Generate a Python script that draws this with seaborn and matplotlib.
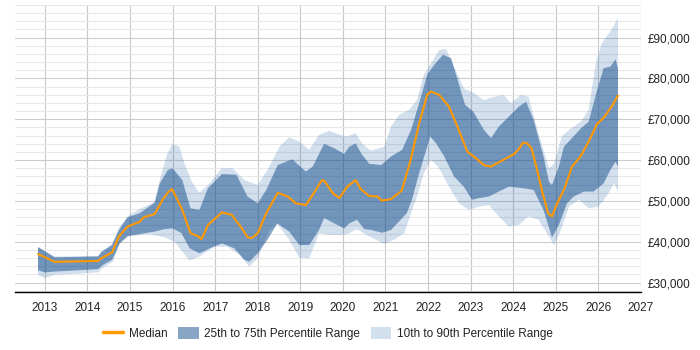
import numpy as np
import matplotlib
matplotlib.use("Agg")
import matplotlib.pyplot as plt
from matplotlib.lines import Line2D
from matplotlib.patches import Patch
from matplotlib.ticker import FuncFormatter, MultipleLocator
import seaborn as sns

# salary values in £ thousands
med_x = [2012.84, 2013.23, 2014.25, 2014.33, 2014.58, 2014.74, 2014.94, 2015.23, 2015.32, 2015.58,
         2015.75, 2015.89, 2015.99, 2016.23, 2016.42, 2016.61, 2016.67, 2016.73, 2016.83, 2017.16,
         2017.39, 2017.51, 2017.63, 2017.76, 2017.86, 2018.0, 2018.2, 2018.47, 2018.7, 2018.9,
         2019.13, 2019.29, 2019.5, 2019.56, 2019.76, 2019.92, 2020.1, 2020.3, 2020.42, 2020.62,
         2020.81, 2020.91, 2021.12, 2021.38, 2021.59, 2021.79, 2021.98, 2022.06, 2022.26, 2022.49,
         2022.69, 2022.92, 2023.12, 2023.31, 2023.47, 2023.74, 2024.02, 2024.13, 2024.23, 2024.33,
         2024.43, 2024.56, 2024.68, 2024.82, 2024.91, 2025.03, 2025.19, 2025.38, 2025.58, 2025.77,
         2025.97, 2026.12, 2026.32, 2026.46]
median = [37.0, 35.1, 35.3, 36.0, 37.4, 41.3, 43.7, 44.9, 46.0, 46.8,
          50.0, 52.1, 52.9, 47.8, 42.1, 41.3, 40.6, 41.7, 44.1, 47.2,
          46.6, 44.9, 43.3, 41.1, 40.9, 42.1, 47.0, 52.0, 51.1, 49.4,
          49.0, 51.5, 55.0, 55.0, 51.9, 50.7, 53.5, 55.1, 52.9, 51.2,
          51.1, 50.1, 50.4, 52.5, 60.0, 69.0, 76.0, 76.8, 76.0, 73.1,
          68.2, 62.1, 60.5, 58.8, 58.4, 59.9, 61.5, 62.7, 64.3, 64.1,
          62.9, 57.6, 52.3, 47.0, 46.2, 49.4, 52.7, 58.4, 60.9, 64.5,
          68.9, 70.3, 73.3, 75.8]

p75_x = [2012.84, 2013.23, 2014.25, 2014.33, 2014.58, 2014.74, 2014.94, 2015.23, 2015.58, 2015.7,
         2015.89, 2016.0, 2016.23, 2016.42, 2016.63, 2016.83, 2017.16, 2017.5, 2017.76, 2018.0,
         2018.2, 2018.47, 2018.81, 2019.13, 2019.29, 2019.56, 2019.8, 2020.03, 2020.15, 2020.3,
         2020.45, 2020.62, 2020.9, 2021.13, 2021.39, 2021.6, 2021.79, 2021.98, 2022.14, 2022.35,
         2022.54, 2022.68, 2022.87, 2023.06, 2023.31, 2023.48, 2023.66, 2023.9, 2024.13, 2024.3,
         2024.48, 2024.71, 2024.84, 2024.91, 2025.07, 2025.19, 2025.38, 2025.59, 2025.77, 2025.96,
         2026.12, 2026.28, 2026.4, 2026.46]
p75 = [38.7, 36.2, 36.4, 37.6, 39.2, 42.9, 46.0, 47.0, 49.6, 54.3,
       57.6, 58.0, 55.1, 48.2, 47.8, 53.1, 56.6, 56.4, 51.1, 49.4,
       52.7, 58.8, 60.2, 57.2, 58.4, 64.0, 62.9, 61.5, 63.3, 64.1,
       61.3, 59.1, 58.8, 60.9, 62.5, 67.4, 73.9, 80.9, 83.3, 85.8,
       85.0, 80.1, 73.5, 71.9, 67.4, 65.4, 68.2, 70.7, 73.1, 74.3,
       69.8, 60.9, 54.7, 53.9, 58.4, 63.3, 65.4, 67.8, 69.4, 76.8,
       82.5, 82.9, 84.7, 82.5]

p25_x = [2012.84, 2013.0, 2013.23, 2014.25, 2014.36, 2014.58, 2014.76, 2014.94, 2015.34, 2015.58,
         2015.81, 2016.0, 2016.21, 2016.4, 2016.63, 2016.87, 2017.16, 2017.45, 2017.69, 2017.8,
         2018.0, 2018.23, 2018.46, 2018.74, 2018.98, 2019.21, 2019.44, 2019.56, 2019.8, 2020.03,
         2020.15, 2020.33, 2020.5, 2020.66, 2020.92, 2021.13, 2021.32, 2021.5, 2021.62, 2021.79,
         2021.98, 2022.05, 2022.19, 2022.38, 2022.61, 2022.84, 2023.03, 2023.2, 2023.43, 2023.66,
         2023.9, 2024.25, 2024.48, 2024.71, 2024.91, 2025.07, 2025.26, 2025.42, 2025.66, 2025.89,
         2026.12, 2026.28, 2026.4, 2026.46]
p25 = [33.0, 32.5, 32.7, 33.3, 34.3, 35.6, 39.6, 41.4, 42.1, 42.5,
       43.1, 43.3, 42.1, 38.4, 37.2, 38.4, 39.6, 38.4, 35.6, 35.1,
       37.2, 40.5, 44.5, 42.5, 39.2, 39.2, 42.9, 45.8, 44.5, 43.3,
       44.5, 45.4, 43.1, 42.9, 42.2, 42.9, 45.0, 47.0, 50.3, 56.8,
       63.3, 65.8, 64.1, 60.9, 56.0, 53.5, 50.3, 50.7, 51.1, 52.3,
       53.5, 53.1, 52.7, 47.8, 41.1, 44.1, 49.4, 51.1, 52.3, 52.3,
       54.3, 57.6, 59.6, 58.4]

p90_x = [2012.84, 2013.23, 2014.25, 2014.58, 2014.76, 2014.99, 2015.23, 2015.58, 2015.74, 2015.88,
         2016.0, 2016.16, 2016.28, 2016.45, 2016.63, 2016.87, 2017.15, 2017.41, 2017.69, 2018.0,
         2018.23, 2018.51, 2018.74, 2018.98, 2019.21, 2019.44, 2019.68, 2019.92, 2020.1, 2020.3,
         2020.45, 2020.66, 2020.97, 2021.13, 2021.32, 2021.55, 2021.74, 2021.9, 2022.07, 2022.26,
         2022.42, 2022.61, 2022.84, 2023.08, 2023.31, 2023.55, 2023.78, 2023.94, 2024.18, 2024.36,
         2024.59, 2024.84, 2024.96, 2025.14, 2025.31, 2025.59, 2025.77, 2025.94, 2026.08, 2026.28,
         2026.46]
p90 = [38.7, 36.4, 36.5, 39.5, 43.7, 46.6, 48.0, 49.8, 56.8, 61.7,
       64.0, 63.3, 59.2, 54.7, 52.0, 54.3, 58.0, 58.0, 55.1, 53.9,
       57.6, 63.3, 65.6, 64.5, 62.5, 66.2, 67.2, 66.2, 65.8, 66.6,
       64.1, 62.3, 63.3, 68.2, 71.1, 72.3, 74.7, 80.9, 83.7, 87.0,
       87.2, 82.9, 77.6, 76.4, 74.7, 75.5, 76.0, 73.9, 76.0, 75.5,
       66.6, 58.0, 59.2, 65.8, 67.4, 69.4, 72.3, 83.7, 88.6, 91.5,
       94.8]

p10_x = [2012.84, 2013.0, 2013.23, 2014.25, 2014.4, 2014.6, 2014.76, 2014.99, 2015.46, 2015.81,
         2016.05, 2016.23, 2016.4, 2016.63, 2016.98, 2017.29, 2017.57, 2017.8, 2018.0, 2018.27,
         2018.46, 2018.74, 2018.98, 2019.21, 2019.44, 2019.68, 2020.03, 2020.15, 2020.33, 2020.62,
         2020.97, 2021.2, 2021.44, 2021.6, 2021.74, 2021.9, 2022.07, 2022.26, 2022.49, 2022.73,
         2022.96, 2023.2, 2023.43, 2023.66, 2023.9, 2024.13, 2024.36, 2024.59, 2024.79, 2024.96,
         2025.12, 2025.31, 2025.54, 2025.77, 2026.0, 2026.19, 2026.37, 2026.46]
p10 = [31.9, 31.1, 31.9, 32.5, 33.9, 35.1, 39.6, 41.4, 41.9, 41.1,
       40.0, 37.6, 35.4, 36.4, 38.8, 38.8, 36.8, 33.9, 36.0, 42.9,
       44.4, 40.5, 36.0, 36.0, 42.1, 41.7, 41.7, 42.1, 43.1, 41.3,
       39.5, 40.5, 42.1, 47.0, 51.1, 56.8, 60.2, 58.0, 53.5, 49.4,
       47.8, 48.6, 49.0, 46.2, 43.7, 44.1, 46.2, 45.4, 42.1, 39.2,
       42.9, 48.6, 50.3, 48.2, 48.6, 51.1, 54.3, 52.3]

years = list(range(2013, 2028))
legend_labels = ["Median", "25th to 75th Percentile Range", "10th to 90th Percentile Range"]

sns.set_style("white")
plt.rcParams["font.family"] = ["Liberation Sans", "DejaVu Sans"]

dark = "#144c8c"
light = "#1f5fa8"
orange = "#ff9900"

fig, ax = plt.subplots(figsize=(7, 3.5), dpi=100)
fig.subplots_adjust(left=15 / 700, right=641 / 700, top=1 - 5 / 350, bottom=1 - 292 / 350)

k = 1000
# 10-90 band, then 25-75 band on top
ax.fill(np.concatenate([p90_x, p10_x[::-1]]),
        np.concatenate([np.array(p90), np.array(p10)[::-1]]) * k,
        color=light, alpha=0.2, lw=0, zorder=2)
ax.fill(np.concatenate([p75_x, p25_x[::-1]]),
        np.concatenate([np.array(p75), np.array(p25)[::-1]]) * k,
        color=dark, alpha=0.5, lw=0, zorder=3)
sns.lineplot(x=med_x, y=np.array(median) * k, color=orange, lw=1.5, ax=ax, zorder=4)

ax.set_xlim(2012.3, 2027)
ax.set_ylim(27700, 98000)
ax.set_xticks(years)
ax.set_xticklabels([str(y) for y in years])
ax.yaxis.set_major_locator(MultipleLocator(10000))
ax.yaxis.set_minor_locator(MultipleLocator(2000))
ax.yaxis.set_major_formatter(FuncFormatter(lambda v, p: f"£{v:,.0f}"))
ax.yaxis.tick_right()

ax.set_axisbelow(True)
ax.grid(axis="x", which="major", color="#c8c8c8", lw=0.8)
ax.grid(axis="y", which="major", color="#cccccc", lw=0.8)
ax.grid(axis="y", which="minor", color="#e8e8e8", lw=0.8)

for s in ["top", "left", "right"]:
    ax.spines[s].set_visible(False)
ax.spines["bottom"].set_color("black")
ax.spines["bottom"].set_linewidth(1.0)

ax.tick_params(axis="x", length=4, width=0.8, color="black", pad=3, labelsize=8.5, labelcolor="#222222")
ax.tick_params(axis="y", which="both", length=0, pad=5, labelsize=8.5, labelcolor="#222222")
ax.set_xlabel("")
ax.set_ylabel("")

handles = [
    Line2D([0], [0], color=orange, lw=2.5),
    Patch(facecolor=dark, alpha=0.5, edgecolor="none"),
    Patch(facecolor=light, alpha=0.2, edgecolor="none"),
]
ax.legend(handles, legend_labels, loc="center", bbox_to_anchor=(0.5, -0.143), ncol=3,
          frameon=False, fontsize=8.5, handlelength=1.7, handleheight=1.2,
          handletextpad=0.5, columnspacing=0.9, labelcolor="#222222")

fig.savefig("out.png", dpi=100)
